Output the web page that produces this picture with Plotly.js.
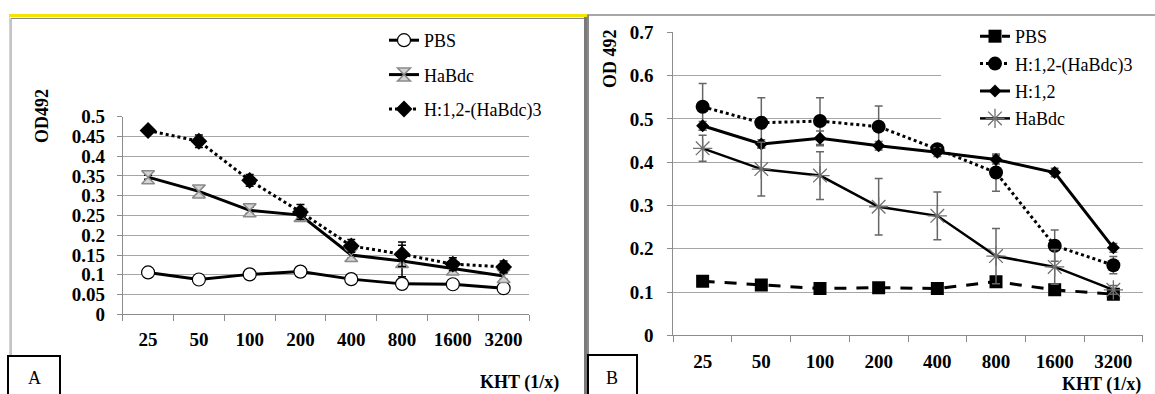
<!DOCTYPE html>
<html>
<head>
<meta charset="utf-8">
<script src="https://cdn.plot.ly/plotly-3.0.1.min.js"></script>
<style>html,body{margin:0;padding:0;background:#fff;}#chart{width:1155px;height:394px;}</style>
</head>
<body>
<div id="chart"></div>
<script>
// ---------- data ----------
const dilutions = ['25','50','100','200','400','800','1600','3200'];

// Panel A
const aPBS      = [0.106, 0.088, 0.101, 0.108, 0.089, 0.077, 0.076, 0.066];
const aPBSErr   = [0.004, 0.004, 0.004, 0.004, 0.004, 0.004, 0.004, 0.004];
const aHaBdc    = [0.347, 0.311, 0.263, 0.251, 0.150, 0.135, 0.116, 0.097];
const aHaBdcErr = [0.005, 0.010, 0.008, 0.008, 0.008, 0.040, 0.010, 0.008];
const aH123     = [0.465, 0.438, 0.339, 0.259, 0.173, 0.152, 0.127, 0.120];
const aH123Err  = [0.005, 0.016, 0.015, 0.019, 0.016, 0.031, 0.016, 0.015];

// Panel B
const bPBS      = [0.125, 0.116, 0.108, 0.110, 0.108, 0.124, 0.105, 0.095];
const bPBSErr   = [0.004, 0.004, 0.004, 0.004, 0.004, 0.004, 0.004, 0.004];
const bH123     = [0.528, 0.491, 0.495, 0.482, 0.430, 0.376, 0.207, 0.162];
const bH123Err  = [0.054, 0.058, 0.054, 0.048, 0.010, 0.043, 0.036, 0.020];
const bH12      = [0.484, 0.442, 0.455, 0.438, 0.423, 0.406, 0.376, 0.202];
const bH12Err   = [0.010, 0.010, 0.017, 0.010, 0.010, 0.010, 0.010, 0.010];
const bHaBdc    = [0.432, 0.384, 0.369, 0.297, 0.276, 0.183, 0.158, 0.105];
const bHaBdcErr = [0.030, 0.062, 0.055, 0.065, 0.055, 0.064, 0.040, 0.010];

// ---------- helpers ----------
const W = 1155, H = 394;
const px = v => v / W;
const py = v => 1 - v / H;
const SERIF = "'Liberation Serif'";

function errA(arr, color){ return {type:'data', array:arr, visible:true, color:color, thickness:1.5, width:4}; }

const traces = [
  // Panel A
  {x:dilutions, y:aPBS, xaxis:'x', yaxis:'y', name:'PBS', mode:'lines+markers', legend:'legend', legendgroup:'a1',
   line:{color:'#000', width:3}, marker:{symbol:'circle', size:13, color:'#fff', line:{color:'#000', width:1.2}},
   error_y: errA(aPBSErr,'#000')},
  {x:dilutions, y:aHaBdc, xaxis:'x', yaxis:'y', name:'HaBdc', mode:'lines+markers', legend:'legend', legendgroup:'a2',
   line:{color:'#000', width:3}, marker:{symbol:'hourglass', size:13, color:'#d4d4d4', line:{color:'#8a8a8a', width:1.5}},
   error_y: errA(aHaBdcErr,'#000')},
  {x:dilutions, y:aH123, xaxis:'x', yaxis:'y', name:'H:1,2-(HaBdc)3', mode:'lines+markers', legend:'legend', legendgroup:'a3',
   line:{color:'#000', width:3, dash:'dot'}, marker:{symbol:'diamond', size:13, color:'#000'},
   error_y: errA(aH123Err,'#000')},
  // Panel B
  {x:dilutions, y:bPBS, xaxis:'x2', yaxis:'y2', name:'PBS', mode:'lines+markers', legend:'legend2', legendgroup:'b1',
   line:{color:'#000', width:3, dash:'12px,10px'}, marker:{symbol:'square', size:13, color:'#000'},
   error_y: errA(bPBSErr,'#666')},
  {x:dilutions, y:bH123, xaxis:'x2', yaxis:'y2', name:'H:1,2-(HaBdc)3', mode:'lines+markers', legend:'legend2', legendgroup:'b2',
   line:{color:'#000', width:3, dash:'dot'}, marker:{symbol:'circle', size:14, color:'#000'},
   error_y: errA(bH123Err,'#666')},
  {x:dilutions, y:bH12, xaxis:'x2', yaxis:'y2', name:'H:1,2', mode:'lines+markers', legend:'legend2', legendgroup:'b3',
   line:{color:'#000', width:3}, marker:{symbol:'diamond', size:10, color:'#000'},
   error_y: errA(bH12Err,'#666')},
  {x:dilutions, y:bHaBdc, xaxis:'x2', yaxis:'y2', name:'HaBdc', mode:'lines+markers', legend:'legend2', legendgroup:'b4',
   line:{color:'#000', width:2.5}, marker:{symbol:'asterisk-open', size:16, color:'#707070', line:{color:'#707070', width:1.3}},
   error_y: errA(bHaBdcErr,'#666')}
];

const tickFont = {family:SERIF, size:19, color:'#000', weight:'bold'};
const xBase = {type:'category', showline:true, linecolor:'#8c8c8c', linewidth:1, ticks:'outside', tickson:'boundaries',
  ticklen:6, tickcolor:'#8c8c8c', showgrid:false, zeroline:false, tickfont:tickFont, ticklabelstandoff:8,
  range:[-0.5, 7.5], fixedrange:true};
const yBase = {showline:true, linecolor:'#8c8c8c', linewidth:1, ticks:'outside', ticklen:5, tickcolor:'#8c8c8c',
  showgrid:true, gridcolor:'#a6a6a6', gridwidth:1, zeroline:false, tickfont:tickFont, ticklabelstandoff:8, fixedrange:true};

const shapes = [
  // panel A frame
  {type:'line', xref:'paper', yref:'paper', x0:px(9), x1:px(587), y0:py(15.5), y1:py(15.5), line:{color:'#f5e400', width:3}},
  {type:'line', xref:'paper', yref:'paper', x0:px(9.5), x1:px(9.5), y0:py(15), y1:py(356), line:{color:'#f0e040', width:1}},
  {type:'line', xref:'paper', yref:'paper', x0:px(11), x1:px(585), y0:py(18.5), y1:py(18.5), line:{color:'#8a8a8a', width:1}},
  {type:'line', xref:'paper', yref:'paper', x0:px(11), x1:px(11), y0:py(18.5), y1:py(356), line:{color:'#8a8a8a', width:1}},
  {type:'line', xref:'paper', yref:'paper', x0:px(585.5), x1:px(585.5), y0:py(17), y1:py(394), line:{color:'#7a7a7a', width:3}},
  // panel B frame
  {type:'line', xref:'paper', yref:'paper', x0:px(587), x1:px(1155), y0:py(15), y1:py(15), line:{color:'#8a8a8a', width:1.5}},
  {type:'line', xref:'paper', yref:'paper', x0:px(588), x1:px(588), y0:py(15), y1:py(394), line:{color:'#8a8a8a', width:2}},
  // legend backgrounds cutting gridlines
  {type:'rect', xref:'paper', yref:'paper', x0:px(338), x1:px(531), y0:py(22), y1:py(122), layer:'above', fillcolor:'#fff', line:{width:0}},
  {type:'rect', xref:'paper', yref:'paper', x0:px(941), x1:px(1145), y0:py(20), y1:py(126), layer:'above', fillcolor:'#fff', line:{width:0}},
  // A / B label boxes
  {type:'rect', xref:'paper', yref:'paper', x0:px(8), x1:px(60), y0:py(356), y1:py(396), line:{color:'#000', width:2}, fillcolor:'#fff'},
  {type:'rect', xref:'paper', yref:'paper', x0:px(588), x1:px(637), y0:py(355), y1:py(396), line:{color:'#000', width:2}, fillcolor:'#fff'}
];

const annFont = {family:SERIF, size:18, color:'#000', weight:'bold'};
const annotations = [
  {xref:'paper', yref:'paper', x:px(42), y:py(116), text:'OD492', textangle:-90, showarrow:false, font:annFont, xanchor:'center', yanchor:'middle'},
  {xref:'paper', yref:'paper', x:px(519), y:py(382), text:'KHT (1/x)', showarrow:false, font:annFont, xanchor:'center', yanchor:'middle'},
  {xref:'paper', yref:'paper', x:px(610), y:py(59), text:'OD 492', textangle:-90, showarrow:false, font:annFont, xanchor:'center', yanchor:'middle'},
  {xref:'paper', yref:'paper', x:px(1101), y:py(384), text:'KHT (1/x)', showarrow:false, font:annFont, xanchor:'center', yanchor:'middle'},
  {xref:'paper', yref:'paper', x:px(34), y:py(378), text:'A', showarrow:false, font:{family:SERIF, size:18, color:'#000'}, xanchor:'center', yanchor:'middle'},
  {xref:'paper', yref:'paper', x:px(612), y:py(378), text:'B', showarrow:false, font:{family:SERIF, size:18, color:'#000'}, xanchor:'center', yanchor:'middle'}
];

const legFont = {family:SERIF, size:18, color:'#000'};
const layout = {
  width:W, height:H, margin:{l:0, r:0, t:0, b:0},
  paper_bgcolor:'#fff', plot_bgcolor:'#fff',
  showlegend:true,
  xaxis: Object.assign({}, xBase, {domain:[px(122.7), px(529)], anchor:'y'}),
  yaxis: Object.assign({}, yBase, {domain:[py(314.3), py(116.7)], range:[0, 0.5], dtick:0.05, anchor:'x'}),
  xaxis2: Object.assign({}, xBase, {domain:[px(673.3), px(1142.7)], anchor:'y2', ticklabelstandoff:9}),
  yaxis2: Object.assign({}, yBase, {domain:[py(335.3), py(32.3)], range:[0, 0.7], dtick:0.1, anchor:'x2', ticklabelstandoff:10}),
  legend: {x:px(384), y:py(22), xanchor:'left', yanchor:'top', bgcolor:'rgba(0,0,0,0)', font:legFont, tracegroupgap:8, borderwidth:0},
  legend2: {x:px(975), y:py(18), xanchor:'left', yanchor:'top', bgcolor:'rgba(0,0,0,0)', font:legFont, tracegroupgap:1, borderwidth:0},
  shapes: shapes,
  annotations: annotations
};

Plotly.newPlot('chart', traces, layout, {displayModeBar:false, staticPlot:true});
</script>
</body>
</html>
